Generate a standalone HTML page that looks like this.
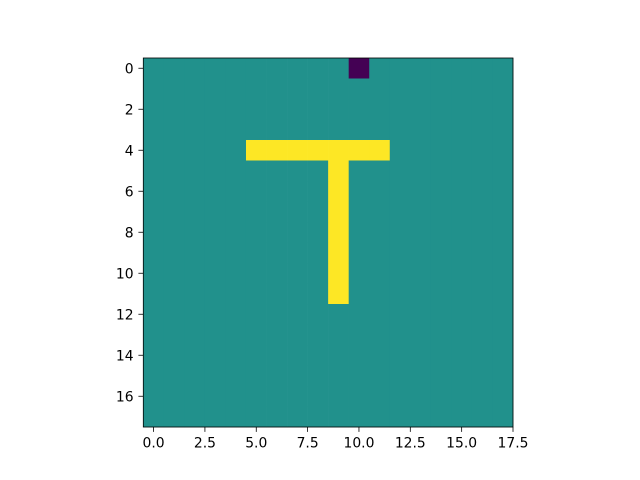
<!DOCTYPE html>
<html><head><meta charset="utf-8"><style>
html,body{margin:0;padding:0;background:#fff;}
svg{display:block;font-family:"DejaVu Sans","Liberation Sans",sans-serif;}
</style></head><body>
<svg id="chart" width="640" height="480"></svg>
<script>
const grid = [
[1,1,1,1,1,1,1,1,1,1,0,1,1,1,1,1,1,1],
[1,1,1,1,1,1,1,1,1,1,1,1,1,1,1,1,1,1],
[1,1,1,1,1,1,1,1,1,1,1,1,1,1,1,1,1,1],
[1,1,1,1,1,1,1,1,1,1,1,1,1,1,1,1,1,1],
[1,1,1,1,1,2,2,2,2,2,2,2,1,1,1,1,1,1],
[1,1,1,1,1,1,1,1,1,2,1,1,1,1,1,1,1,1],
[1,1,1,1,1,1,1,1,1,2,1,1,1,1,1,1,1,1],
[1,1,1,1,1,1,1,1,1,2,1,1,1,1,1,1,1,1],
[1,1,1,1,1,1,1,1,1,2,1,1,1,1,1,1,1,1],
[1,1,1,1,1,1,1,1,1,2,1,1,1,1,1,1,1,1],
[1,1,1,1,1,1,1,1,1,2,1,1,1,1,1,1,1,1],
[1,1,1,1,1,1,1,1,1,2,1,1,1,1,1,1,1,1],
[1,1,1,1,1,1,1,1,1,1,1,1,1,1,1,1,1,1],
[1,1,1,1,1,1,1,1,1,1,1,1,1,1,1,1,1,1],
[1,1,1,1,1,1,1,1,1,1,1,1,1,1,1,1,1,1],
[1,1,1,1,1,1,1,1,1,1,1,1,1,1,1,1,1,1],
[1,1,1,1,1,1,1,1,1,1,1,1,1,1,1,1,1,1],
[1,1,1,1,1,1,1,1,1,1,1,1,1,1,1,1,1,1]
];
const xTicks = [0.0,2.5,5.0,7.5,10.0,12.5,15.0,17.5];
const yTicks = [0,2,4,6,8,10,12,14,16];
const palette = ["#440154","#21918c","#fde725"];

const L=143.3, R=513, T=58, B=427;
const nC=grid[0].length, nR=grid.length;
const xs = v => L + (v+0.5)/nC*(R-L);
const ys = v => T + (v+0.5)/nR*(B-T);
const svg=document.getElementById('chart');
const NS='http://www.w3.org/2000/svg';
function mk(t,a){const e=document.createElementNS(NS,t);for(const k in a)e.setAttribute(k,a[k]);svg.appendChild(e);return e;}
const vmin=Math.min(...grid.flat()), vmax=Math.max(...grid.flat());
grid.forEach((row,r)=>row.forEach((v,c)=>{
  const idx=Math.round((v-vmin)/((vmax-vmin)||1)*2);
  const x0=xs(c-0.5), x1=xs(c+0.5), y0=ys(r-0.5), y1=ys(r+0.5);
  const e=mk('rect',{x:x0,y:y0,width:x1-x0+0.3,height:y1-y0+0.3,fill:palette[idx]});
  
  
}));
const fr=mk('rect',{x:L,y:T,width:R-L,height:B-T,fill:'none',stroke:'#000','stroke-width':0.8});


xTicks.forEach(t=>{
  const x=xs(t);
  const tk=mk('line',{x1:x,x2:x,y1:B,y2:B+4.9,stroke:'#000','stroke-width':0.8});
  
  
  const lb=mk('text',{x:x,y:B+20.3,'text-anchor':'middle','font-size':13.9,fill:'#000'});
  lb.textContent=t.toFixed(1);
  
  
});
yTicks.forEach(t=>{
  const y=ys(t);
  const tk=mk('line',{x1:L-4.9,x2:L,y1:y,y2:y,stroke:'#000','stroke-width':0.8});
  
  
  const lb=mk('text',{x:L-9.7,y:y+5,'text-anchor':'end','font-size':13.9,fill:'#000'});
  lb.textContent=String(t);
  
  
});
</script>
</body></html>
